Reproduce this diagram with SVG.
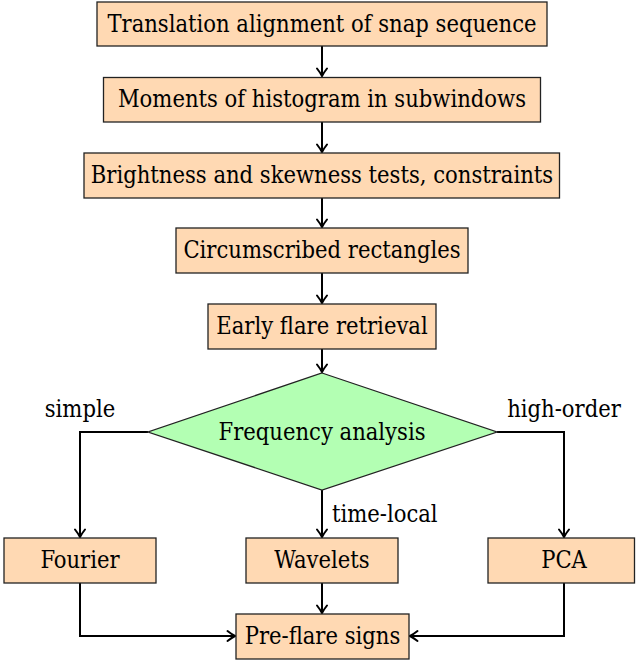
<svg xmlns="http://www.w3.org/2000/svg" width="636" height="664" viewBox="0 0 636 664">
<style>
.box{fill:#FFD9B3;stroke:#222;stroke-width:1.3}
.dia{fill:#B3FFB3;stroke:#222;stroke-width:1.3}
text{font-family:'DejaVu Serif Condensed','DejaVu Serif',serif;font-stretch:condensed;font-size:23.5px;fill:#000}
.t{text-anchor:middle}
.c{fill:none;stroke:#000;stroke-width:2}
</style>
<defs>
<marker id="arr" markerUnits="userSpaceOnUse" markerWidth="14" markerHeight="14" viewBox="-9 -7 10 14" refX="0" refY="0" orient="auto" overflow="visible">
<path d="M -7.5 -5 Q -3 -1.5 0 0 Q -3 1.5 -7.5 5" fill="none" stroke="#000" stroke-width="2" stroke-linecap="round"/>
</marker>
</defs>
<g id="connectors">
<path class="c" d="M322 46 V76" marker-end="url(#arr)"/>
<path class="c" d="M322 122 V152" marker-end="url(#arr)"/>
<path class="c" d="M322 198 V227" marker-end="url(#arr)"/>
<path class="c" d="M322 273 V303" marker-end="url(#arr)"/>
<path class="c" d="M322 349 V372" marker-end="url(#arr)"/>
<path class="c" d="M148 432 H80 V537" marker-end="url(#arr)"/>
<path class="c" d="M497 432 H564 V537" marker-end="url(#arr)"/>
<path class="c" d="M322 490 V537" marker-end="url(#arr)"/>
<path class="c" d="M322 583 V613" marker-end="url(#arr)"/>
<path class="c" d="M80 583 V636 H235" marker-end="url(#arr)"/>
<path class="c" d="M564 583 V636 H410" marker-end="url(#arr)"/>
<text x="80" y="417" text-anchor="middle">simple</text>
<text x="564" y="417" text-anchor="middle">high-order</text>
<text x="332" y="522">time-local</text>
</g>
<g id="n1"><rect class="box" x="97" y="2" width="450" height="44"/><text class="t" x="322" y="31.5">Translation alignment of snap sequence</text></g>
<g id="n2"><rect class="box" x="103.5" y="77.5" width="437" height="44.5"/><text class="t" x="322" y="107">Moments of histogram in subwindows</text></g>
<g id="n3"><rect class="box" x="84" y="153" width="475.5" height="45"/><text class="t" x="322" y="183">Brightness and skewness tests, constraints</text></g>
<g id="n4"><rect class="box" x="176" y="228" width="292" height="45"/><text class="t" x="322" y="258">Circumscribed rectangles</text></g>
<g id="n5"><rect class="box" x="208" y="304" width="228" height="45"/><text class="t" x="322" y="334">Early flare retrieval</text></g>
<g id="n6"><polygon class="dia" points="322,373 497,432 322,490 148,432"/><text class="t" x="322" y="440">Frequency analysis</text></g>
<g id="n7"><rect class="box" x="4" y="538" width="152" height="45"/><text class="t" x="80" y="568">Fourier</text></g>
<g id="n8"><rect class="box" x="246" y="538" width="152" height="45"/><text class="t" x="322" y="568">Wavelets</text></g>
<g id="n9"><rect class="box" x="488" y="538" width="146.5" height="45"/><text class="t" x="564" y="568">PCA</text></g>
<g id="n10"><rect class="box" x="236" y="614" width="173" height="45"/><text class="t" x="322.5" y="644">Pre-flare signs</text></g>
</svg>
